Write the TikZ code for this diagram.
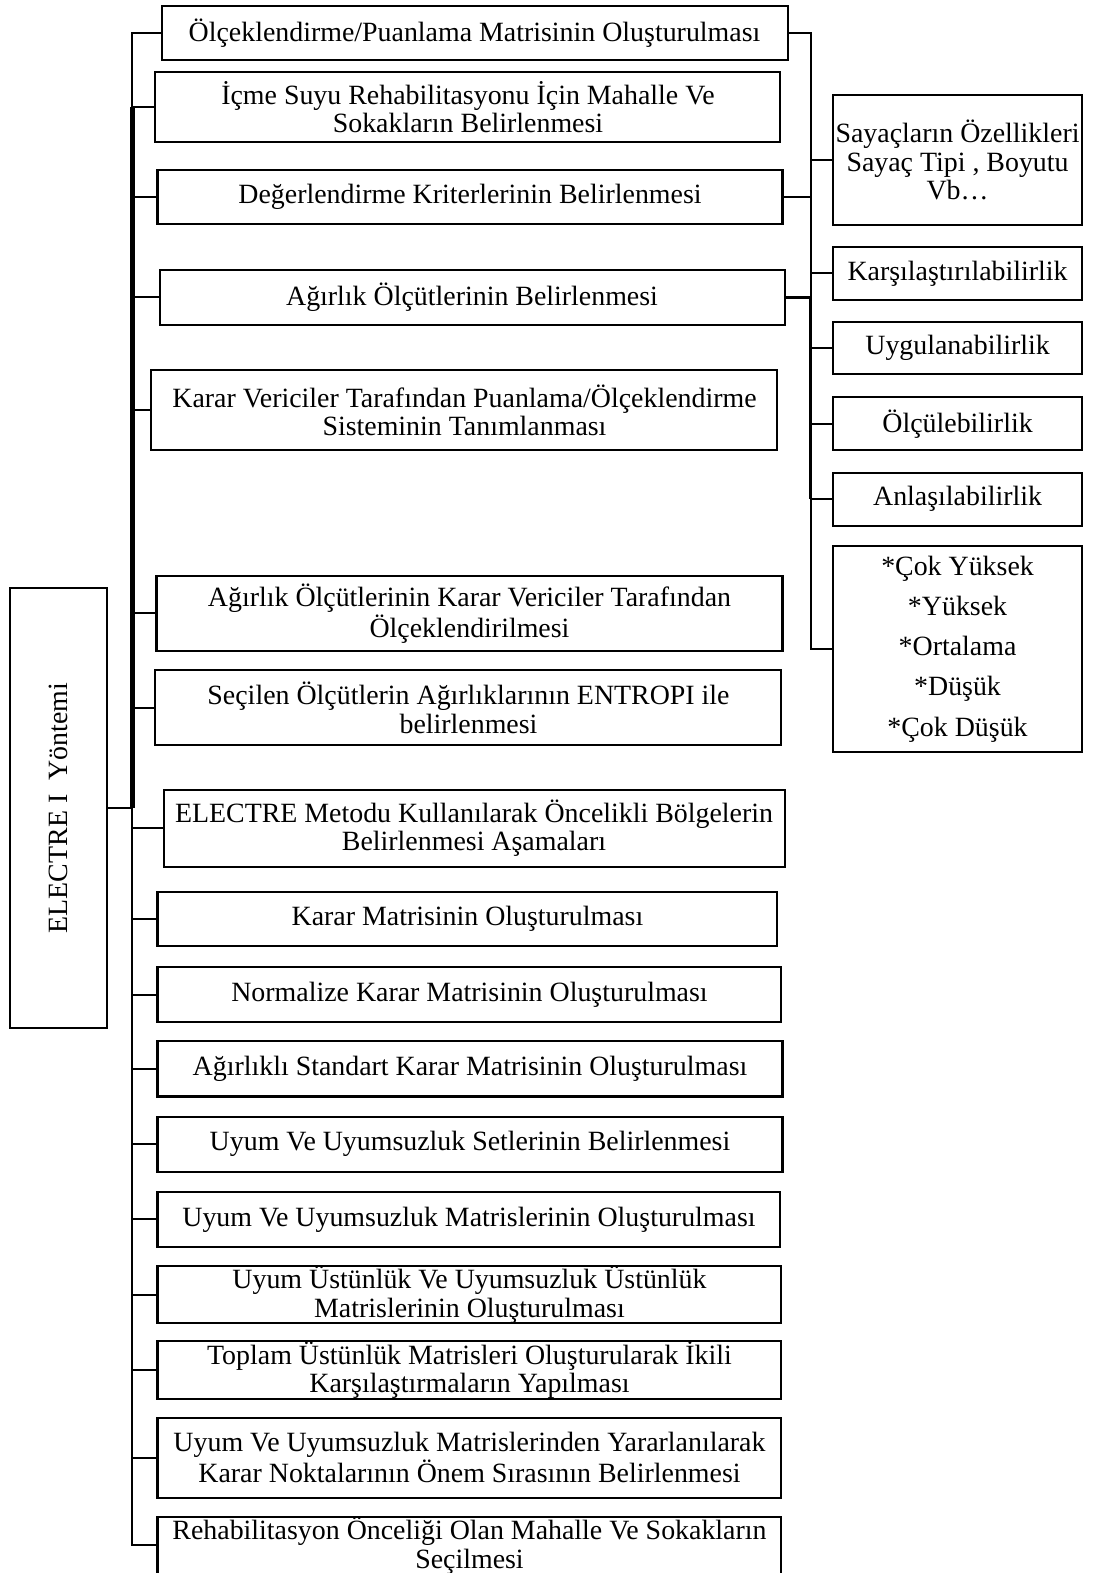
\documentclass[tikz,border=0pt]{standalone}
\usepackage{fontspec}
\setmainfont{Liberation Serif}
\usepackage{tikz}
\usetikzlibrary{positioning}

\begin{document}
\begin{tikzpicture}[x=0.5pt, y=-0.5pt,
  box/.style 2 args={draw, line width=1pt, align=center, inner sep=0pt,
    minimum width=#1*0.5pt, minimum height=#2*0.5pt,
    font=\fontsize{13.9}{14.2}\selectfont},
  link/.style={line width=1pt},
  trunk/.style={line width=2.2pt}]
\useasboundingbox (0,0) rectangle (1090,1568);

\node [box={97}{439}] (root) at (58.5,805.5) {\rotatebox{90}{ELECTRE I\ \ Yöntemi}};

\node [box={624}{54}] (olc) at (473,33) {Ölçeklendirme/Puanlama Matrisinin Oluşturulması};
\node [box={623}{70}] (icme) at (466.5,107) {İçme Suyu Rehabilitasyonu İçin Mahalle Ve\\ Sokakların Belirlenmesi};
\node [box={623}{54}] (deg) at (468.5,196) {Değerlendirme Kriterlerinin Belirlenmesi};
\node [box={623}{55}] (agr) at (470.5,296.5) {Ağırlık Ölçütlerinin Belirlenmesi};
\node [box={624}{80}] (karv) at (463,409) {Karar Vericiler Tarafından Puanlama/Ölçeklendirme\\ Sisteminin Tanımlanması};
\node [box={624}{75}] (agkv) at (468,611.5) {Ağırlık Ölçütlerinin Karar Vericiler Tarafından\\ Ölçeklendirilmesi};
\node [box={624}{75}] (sec) at (467,705.5) {Seçilen Ölçütlerin Ağırlıklarının ENTROPI ile\\ belirlenmesi};
\node [box={619}{77}] (elec) at (472.5,825.5) {ELECTRE Metodu Kullanılarak Öncelikli Bölgelerin\\ Belirlenmesi Aşamaları};
\node [box={618}{54}] (karm) at (466,916) {Karar Matrisinin Oluşturulması};
\node [box={622}{55}] (norm) at (468,991.5) {Normalize Karar Matrisinin Oluşturulması};
\node [box={623}{55}] (agst) at (468.5,1065.5) {Ağırlıklı Standart Karar Matrisinin Oluşturulması};
\node [box={623}{55}] (set) at (468.5,1140.5) {Uyum Ve Uyumsuzluk Setlerinin Belirlenmesi};
\node [box={621}{55}] (matr) at (467.5,1215.5) {Uyum Ve Uyumsuzluk Matrislerinin Oluşturulması};
\node [box={622}{55}] (ust) at (468,1290.5) {Uyum Üstünlük Ve Uyumsuzluk Üstünlük\\ Matrislerinin Oluşturulması};
\node [box={622}{55}] (topl) at (468,1365.5) {Toplam Üstünlük Matrisleri Oluşturularak İkili\\ Karşılaştırmaların Yapılması};
\node [box={622}{80}] (sira) at (468,1453) {Uyum Ve Uyumsuzluk Matrislerinden Yararlanılarak\\ Karar Noktalarının Önem Sırasının Belirlenmesi};
\node [box={622}{55}] (rehab) at (468,1540.5) {Rehabilitasyon Önceliği Olan Mahalle Ve Sokakların\\ Seçilmesi};

% right column
\node [box={249}{129}] (say) at (954.5,159.5) {Sayaçların Özellikleri\\ Sayaç Tipi , Boyutu\\ Vb…};
\node [box={249}{53}] (kars) at (954.5,272.5) {Karşılaştırılabilirlik};
\node [box={249}{52}] (uyg) at (954.5,347) {Uygulanabilirlik};
\node [box={249}{53}] (olcu) at (954.5,422.5) {Ölçülebilirlik};
\node [box={249}{53}] (anl) at (954.5,497.5) {Anlaşılabilirlik};
\node [box={249}{206}, font=\fontsize{13.9}{20}\selectfont] (sev) at (954.5,647) {*Çok Yüksek\\ *Yüksek\\ *Ortalama\\ *Düşük\\ *Çok Düşük};

% % % % % % % % % % % % % % % % % % % % % % % % % %

\coordinate (lspine) at (132,0);
\coordinate (rspine) at (808,0);

\draw [link] (olc.west) -| (lspine |- rehab.west) -- (rehab.west);
\draw [trunk] (lspine |- icme.west) -- (lspine |- root.east);
\draw [link] (root.east) -- (root.east -| lspine);

\draw [link] (icme.west) -- (icme.west -| lspine);
\draw [link] (deg.west) -- (deg.west -| lspine);
\draw [link] (agr.west) -- (agr.west -| lspine);
\draw [link] (karv.west) -- (karv.west -| lspine);
\draw [link] (agkv.west) -- (agkv.west -| lspine);
\draw [link] (sec.west) -- (sec.west -| lspine);
\draw [link] (elec.west) -- (elec.west -| lspine);
\draw [link] (karm.west) -- (karm.west -| lspine);
\draw [link] (norm.west) -- (norm.west -| lspine);
\draw [link] (agst.west) -- (agst.west -| lspine);
\draw [link] (set.west) -- (set.west -| lspine);
\draw [link] (matr.west) -- (matr.west -| lspine);
\draw [link] (ust.west) -- (ust.west -| lspine);
\draw [link] (topl.west) -- (topl.west -| lspine);
\draw [link] (sira.west) -- (sira.west -| lspine);

\draw [link] (olc.east) -| (rspine |- sev.west) -- (sev.west);
\draw [link] (deg.east) -- (deg.east -| rspine);
\draw [line width=1.6pt] (agr.east) -- (agr.east -| rspine);
\draw [line width=1.6pt] (rspine |- agr.east) -- (rspine |- anl.west);
\draw [link] (say.west) -- (say.west -| rspine);
\draw [link] (kars.west) -- (kars.west -| rspine);
\draw [link] (uyg.west) -- (uyg.west -| rspine);
\draw [link] (olcu.west) -- (olcu.west -| rspine);
\draw [link] (anl.west) -- (anl.west -| rspine);
\end{tikzpicture}
\end{document}
